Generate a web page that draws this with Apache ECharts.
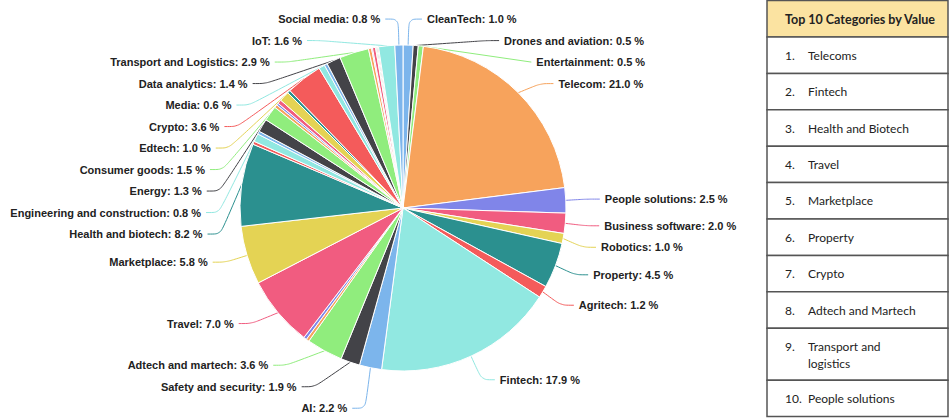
<!DOCTYPE html>
<html>
<head>
<meta charset="utf-8">
<title>Investment by category</title>
<script src="https://cdn.jsdelivr.net/npm/echarts@6/dist/echarts.min.js"></script>
<style>
  html, body { margin: 0; padding: 0; background: #fff; }
  #chart { width: 951px; height: 419px; }
</style>
</head>
<body>
<div id="chart"></div>
<script>
// Slices in clockwise order from 12 o'clock. Slivers too thin to carry a label are "Other".
const categories = [
  'CleanTech', 'Drones and aviation', 'Entertainment', 'Telecom', 'People solutions',
  'Business software', 'Robotics', 'Property', 'Agritech', 'Fintech',
  'AI', 'Safety and security', 'Adtech and martech', 'Other', 'Other',
  'Travel', 'Marketplace', 'Health and biotech', 'Other', 'Engineering and construction',
  'Other', 'Energy', 'Consumer goods', 'Other', 'Other',
  'Other', 'Edtech', 'Other', 'Crypto', 'Media',
  'Other', 'Data analytics', 'Transport and Logistics', 'Other', 'Other',
  'Other', 'Other', 'Other', 'Other', 'IoT',
  'Social media'
];
const shares = [
  1.0, 0.5, 0.5, 21.0, 2.5,
  2.0, 1.0, 4.5, 1.2, 17.9,
  2.2, 1.9, 3.6, 0.3, 0.3,
  7.0, 5.8, 8.2, 0.3, 0.8,
  0.3, 1.3, 1.5, 0.3, 0.2,
  0.4, 1.0, 0.3, 3.6, 0.6,
  0.3, 1.4, 2.9, 0.3, 0.1,
  0.3, 0.1, 0.1, 0.1, 1.6,
  0.8
];
// colours cycle through the palette slice by slice
const palette = ['#7cb5ec', '#434348', '#90ed7d', '#f7a35c', '#8085e9',
                 '#f15c80', '#e4d354', '#2b908f', '#f45b5b', '#91e8e1'];

// Ranking table beside the pie
const tableTitle = 'Top 10 Categories by Value';
const topTen = [
  'Telecoms', 'Fintech', 'Health and Biotech', 'Travel', 'Marketplace',
  'Property', 'Crypto', 'Adtech and Martech', 'Transport and\nlogistics', 'People solutions'
];

const pieData = categories.map((name, i) => ({
  name: name,
  value: shares[i],
  itemStyle: { color: palette[i % palette.length] }
}));

// table geometry
const tableX = 767, tableW = 181, headerH = 37, rowH = 36.4, tallRowH = 52;
const border = '#555';
const graphic = [];
graphic.push({
  type: 'rect',
  shape: { x: tableX, y: 0.5, width: tableW, height: headerH - 0.5 },
  style: { fill: '#fbe3a1', stroke: border, lineWidth: 1.5 }
});
graphic.push({
  type: 'text', x: tableX + 18, y: headerH / 2 + 1,
  style: { text: tableTitle, font: 'bold 12.5px Lato', fill: '#222', verticalAlign: 'middle' }
});
let yTop = headerH;
topTen.forEach((name, i) => {
  const lines = name.split('\n').length;
  const h = lines > 1 ? tallRowH : rowH;
  graphic.push({
    type: 'rect',
    shape: { x: tableX, y: yTop, width: tableW, height: h },
    style: { fill: '#fff', stroke: border, lineWidth: 1.5 }
  });
  const firstLineY = lines > 1 ? yTop + h / 2 - 8 : yTop + h / 2;
  graphic.push({
    type: 'text', x: tableX + 18, y: firstLineY,
    style: { text: (i + 1) + '.', font: '12px Lato', fill: '#222', verticalAlign: 'middle' }
  });
  graphic.push({
    type: 'text', x: tableX + 41, y: lines > 1 ? firstLineY - 8.5 : firstLineY,
    style: { text: name, font: '12px Lato', fill: '#222', lineHeight: 17,
             verticalAlign: lines > 1 ? 'top' : 'middle' }
  });
  yTop += h;
});

const chart = echarts.init(document.getElementById('chart'), null, { renderer: 'svg' });
chart.setOption({
  animation: false,
  graphic: graphic,
  series: [{
    type: 'pie',
    center: [403, 208],
    radius: 163,
    startAngle: 90,
    clockwise: true,
    minShowLabelAngle: 1.6,
    avoidLabelOverlap: true,
    emphasis: { disabled: true },
    itemStyle: { borderColor: '#fff', borderWidth: 1 },
    label: {
      show: true,
      position: 'outside',
      formatter: p => p.name + ': ' + p.value.toFixed(1) + ' %',
      fontFamily: 'Liberation Sans',
      fontWeight: 'bold',
      fontSize: 11,
      color: '#222',
      lineHeight: 19.5
    },
    labelLine: {
      show: true,
      length: 26,
      length2: 13,
      smooth: 0.3,
      lineStyle: { width: 1 }
    },
    data: pieData
  }]
});
</script>
</body>
</html>
